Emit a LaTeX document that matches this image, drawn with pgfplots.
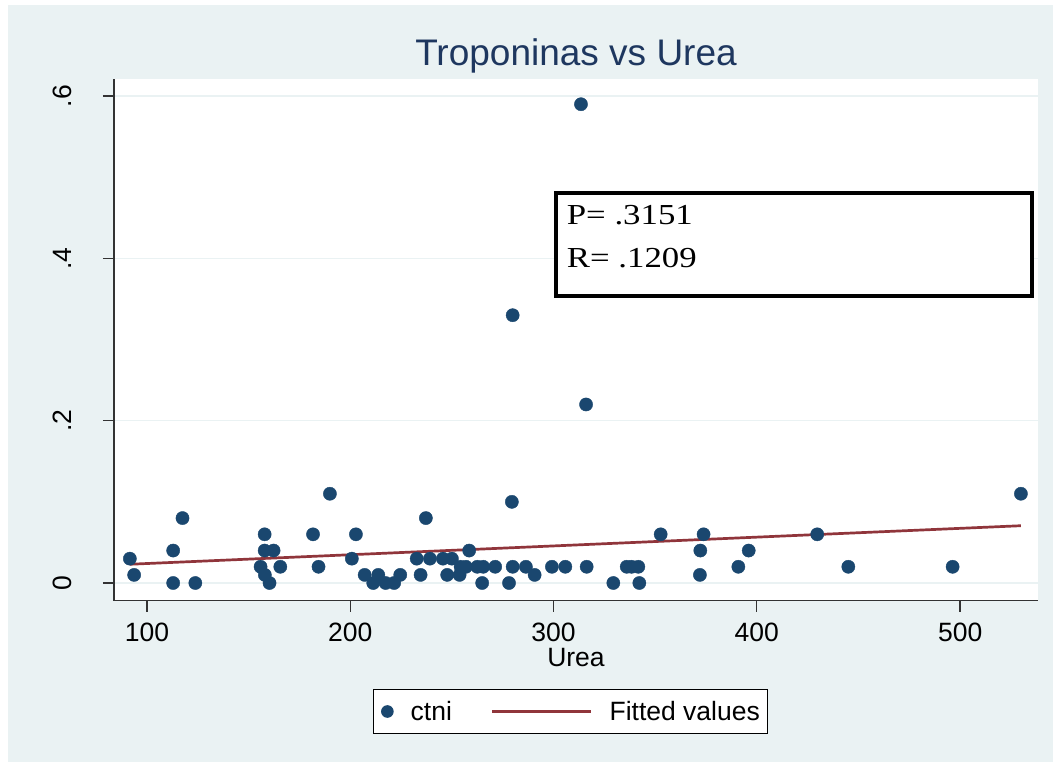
\documentclass[border=0pt]{standalone}
\usepackage{pgfplots}
\pgfplotsset{compat=1.18}
\usepackage{fontspec}
\setmainfont{Liberation Sans}
\newfontfamily\boxfont[FakeStretch=1.2]{Liberation Serif}
\definecolor{bgc}{RGB}{234,242,243}
\definecolor{navyc}{RGB}{26,71,111}
\definecolor{maroonc}{RGB}{144,53,59}
\definecolor{titlec}{RGB}{30,55,95}
\newcommand{\lblfont}{\fontsize{26.5bp}{30bp}\selectfont}

\pgfplotstableread{
x y
91.6 0.03
93.7 0.01
112.9 0.04
112.9 0
117.5 0.08
123.8 0
155.9 0.02
157.9 0.06
157.9 0.04
158.0 0.01
160.3 0
162.3 0.04
165.6 0.02
181.7 0.06
184.4 0.02
190.0 0.11
200.8 0.03
202.8 0.06
207.1 0.01
211.3 0
213.8 0.01
217.4 0
221.6 0
224.6 0.01
232.7 0.03
234.6 0.01
237.2 0.08
239.2 0.03
245.6 0.03
247.7 0.01
250.0 0.03
253.8 0.01
254.3 0.02
256.9 0.02
258.5 0.04
262.5 0.02
264.9 0
265.4 0.02
271.3 0.02
278.1 0
279.5 0.10
279.9 0.33
279.9 0.02
286.4 0.02
290.7 0.01
299.2 0.02
305.8 0.02
313.5 0.59
316.0 0.22
316.3 0.02
329.4 0
336.0 0.02
338.4 0.02
341.7 0.02
342.2 0
352.7 0.06
372.0 0.01
372.2 0.04
373.8 0.06
390.9 0.02
396.0 0.04
429.7 0.06
445.0 0.02
496.3 0.02
529.9 0.11
}\ctni

\pgfplotstableread{
x y
91.6 0.0231
529.9 0.0706
}\fitted

\begin{document}
\begin{tikzpicture}
\useasboundingbox (0,0) rectangle (1053bp,767bp);
\fill[white] (0,0) rectangle (1053bp,767bp);
\fill[bgc] (8bp,5bp) rectangle (1053bp,762bp);
\begin{axis}[
  at={(114bp,166.3bp)}, anchor=south west,
  width=924bp, height=521.4bp, scale only axis,
  xmin=83.8, xmax=538.3, ymin=-0.0218, ymax=0.6207,
  axis background/.style={fill=white},
  axis x line*=bottom, axis y line*=left,
  axis line style={black!80, line width=1.3bp, -},
  tick align=outside,
  major tick length=11bp,
  tick style={black!80, line width=1.3bp},
  xtick={100,200,300,400,500},
  xticklabels={100,200,300,400,500},
  ytick={0,0.2,0.4,0.6},
  yticklabels={0,.2,.4,.6},
  ymajorgrids,
  grid style={bgc, line width=1.5bp},
  xticklabel style={font=\lblfont, anchor=base, yshift=-30bp},
  yticklabel style={font=\lblfont, xshift=-31bp, rotate=90, anchor=base},
  xlabel={Urea},
  xlabel style={font=\lblfont, at={(axis description cs:0.5,-0.1266)}, anchor=base},
  title={Troponinas vs Urea},
  title style={font=\fontsize{37bp}{40bp}\selectfont, text=titlec, at={(axis description cs:0.5,1.0159)}, anchor=base},
  legend columns=2,
  legend style={at={(axis description cs:0.494,-0.2125)}, anchor=center,
    draw=black, line width=1bp, fill=white, font=\lblfont,
    inner xsep=8bp, inner ysep=11.5bp,
    nodes={inner sep=0bp},
    /tikz/every odd column/.append style={column sep=17bp},
    /tikz/every even column/.append style={column sep=39bp}},
  legend cell align=left,
  clip=false,
]
\addplot[only marks, mark=*, mark size=6.6bp, mark options={fill=navyc, draw=navyc},
  legend image code/.code={\fill[navyc] (0bp,0bp) circle (5.8bp);}]
  table[x=x, y=y] {\ctni};
\addlegendentry{ctni}
\addplot[maroonc, line width=2.7bp,
  legend image code/.code={\draw[maroonc, line width=2.7bp] (0bp,0bp) -- (99bp,0bp);}]
  table[x=x, y=y] {\fitted};
\addlegendentry{Fitted values}
\draw[black, line width=4bp, fill=white] (rel axis cs:0.4784,0.5844) rectangle (rel axis cs:0.9935,0.7814);
\node[anchor=base west, font=\boxfont\fontsize{29bp}{32bp}\selectfont, inner sep=0pt] at (rel axis cs:0.4899,0.7206) {P= .3151};
\node[anchor=base west, font=\boxfont\fontsize{29bp}{32bp}\selectfont, inner sep=0pt] at (rel axis cs:0.4899,0.6394) {R= .1209};
\end{axis}
\end{tikzpicture}
\end{document}
